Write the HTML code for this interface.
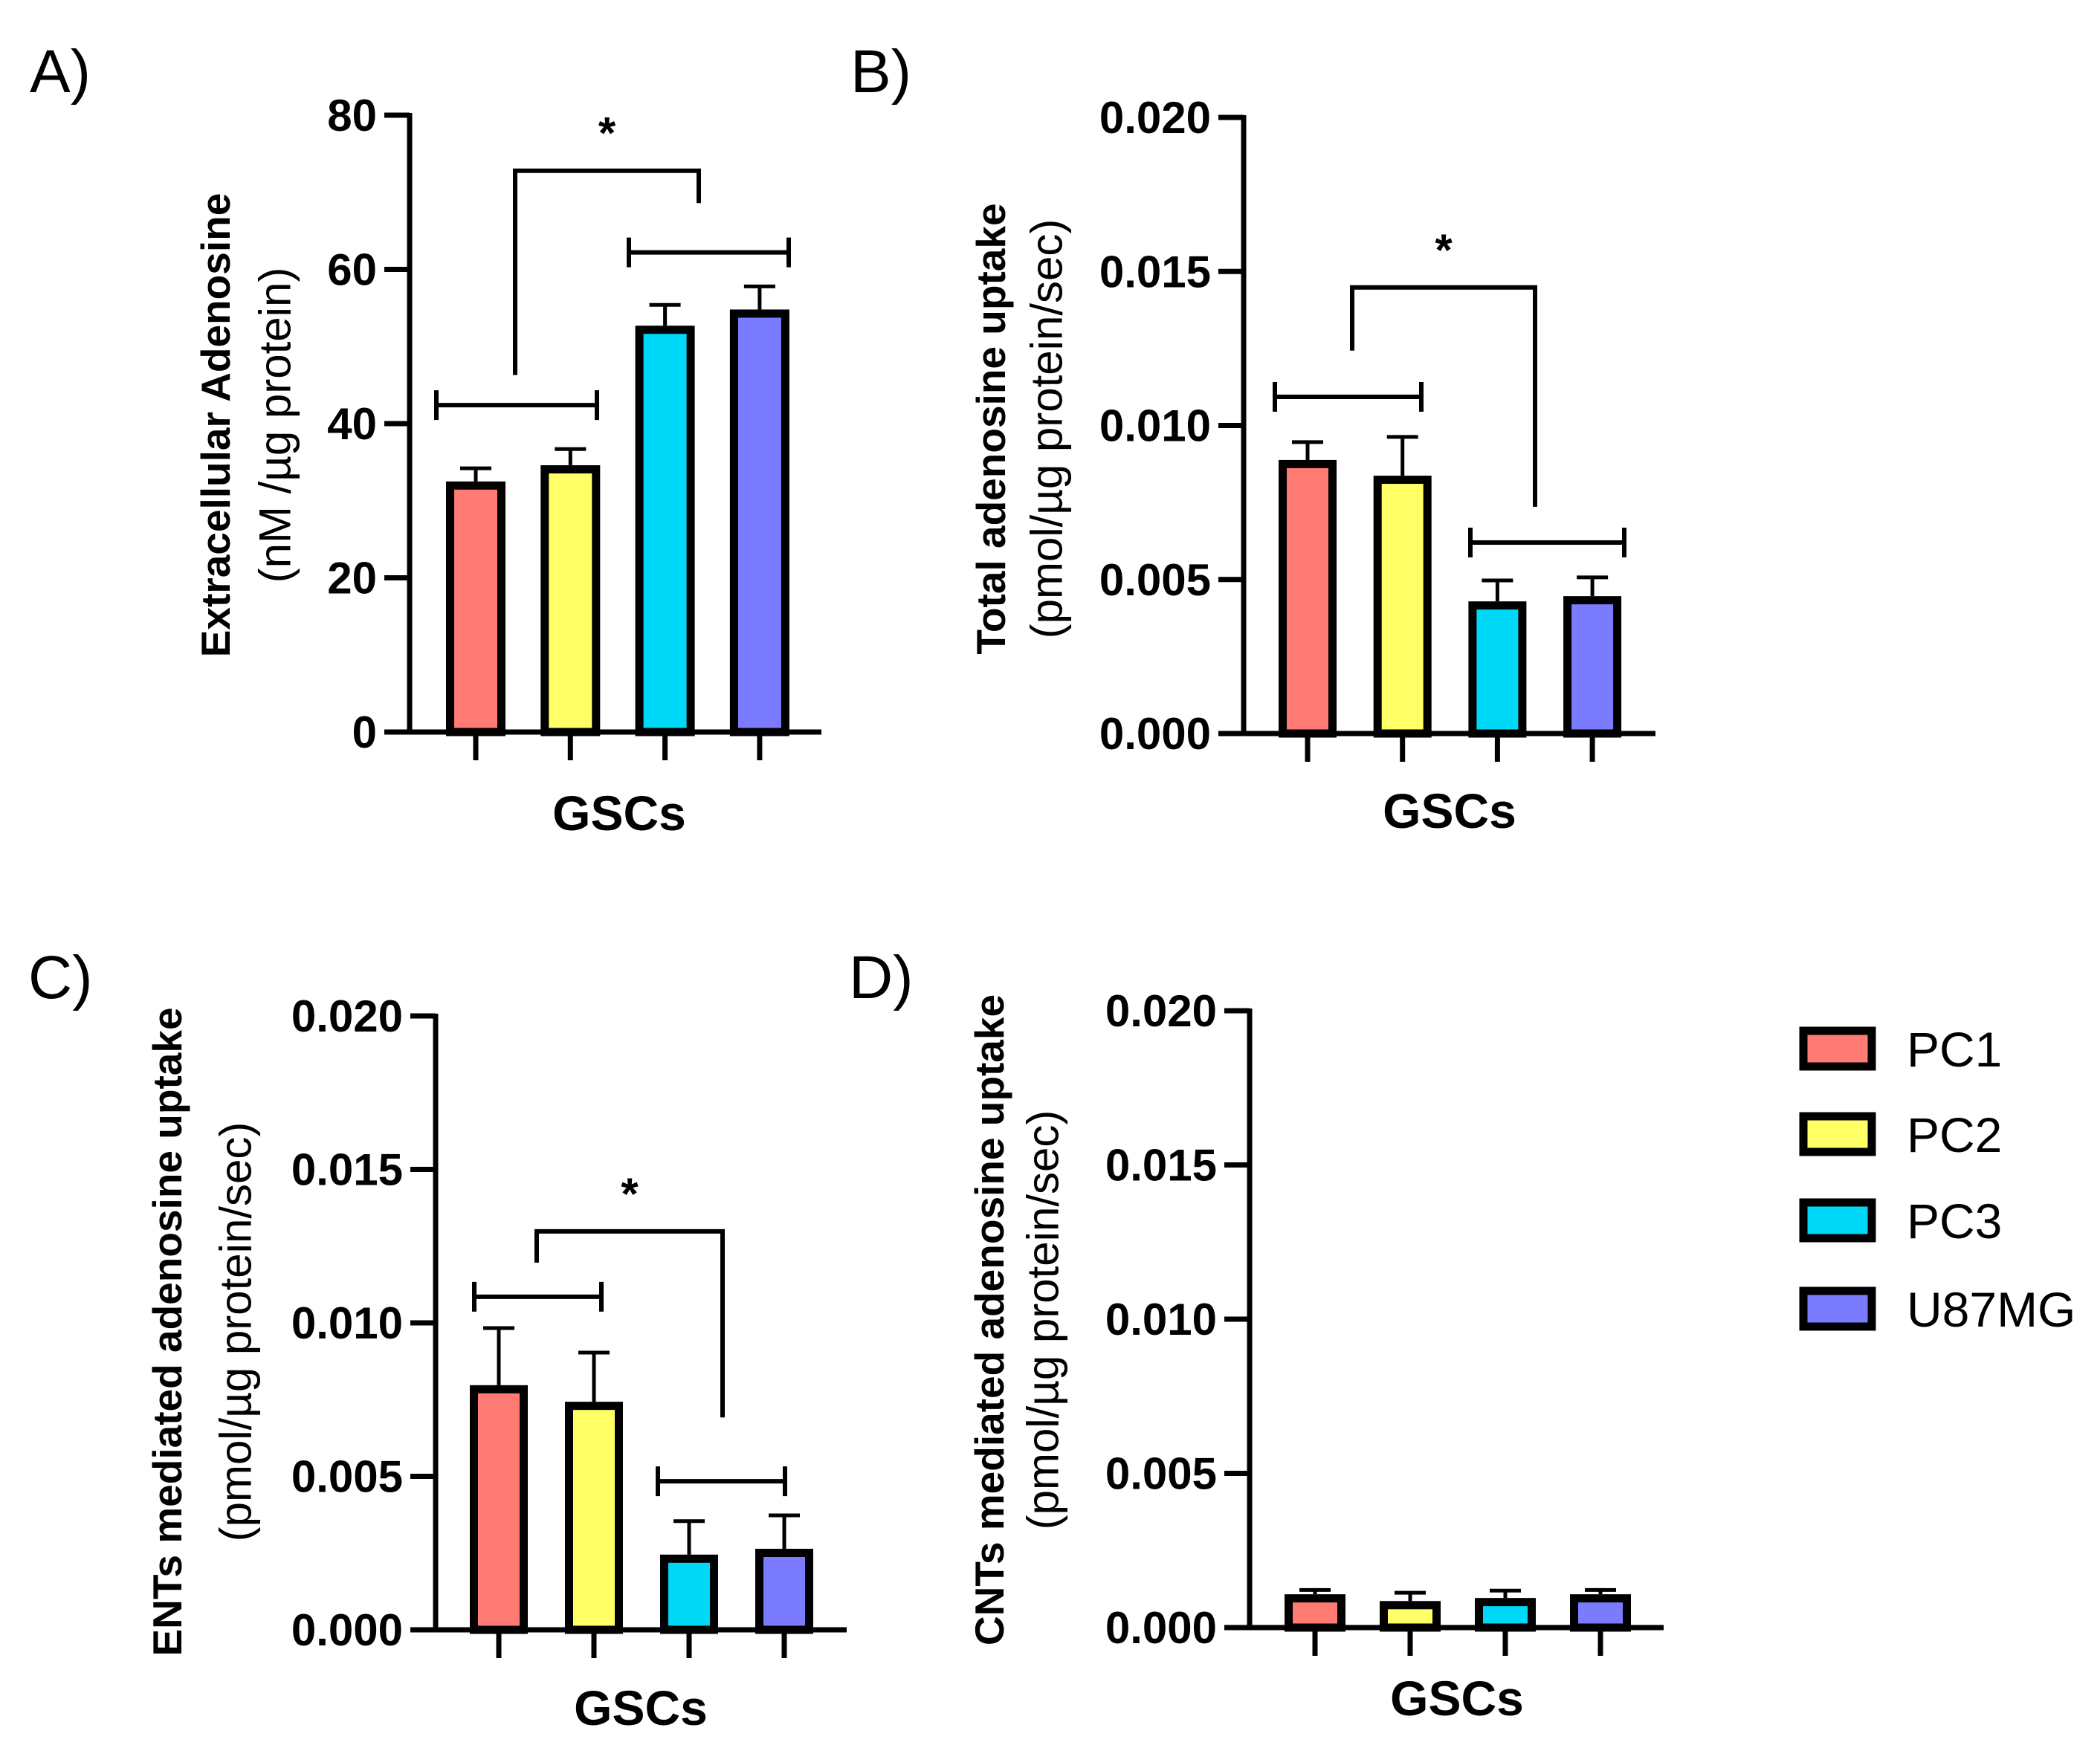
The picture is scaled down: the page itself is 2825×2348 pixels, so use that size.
<!DOCTYPE html>
<html><head><meta charset="utf-8"><style>
html,body{margin:0;padding:0;background:#fff;}
svg{display:block;}
text{font-family:"Liberation Sans",Arial,sans-serif;fill:#000;}
</style></head><body>
<svg id="fig" width="2825" height="2348" viewBox="0 0 2825 2348" xmlns="http://www.w3.org/2000/svg"></svg>
<script>
// ---- data ----
const categories = ["PC1","PC2","PC3","U87MG"];
const colors = ["#ff7b73","#ffff66","#00d8f8","#7b7bff"];
const valuesA = [32.5, 34.6, 52.7, 54.8];
const errorsA = [34.2, 36.7, 55.4, 57.8];
const ticksA = [0,20,40,60,80];
const tickLabelsA = ["0","20","40","60","80"];
const bracketsA = [42.4, 62.2];
const sigA = [72.8, 46.3, 68.6];
const valuesB = [0.00888, 0.00837, 0.00429, 0.00446];
const errorsB = [0.00946, 0.00963, 0.00497, 0.00507];
const ticksB = [0,0.005,0.010,0.015,0.020];
const tickLabelsB = ["0.000","0.005","0.010","0.015","0.020"];
const bracketsB = [0.01093, 0.0062];
const sigB = [0.01448, 0.01243, 0.00736];
const valuesC = [0.00797, 0.00743, 0.00245, 0.00264];
const errorsC = [0.00983, 0.00903, 0.00354, 0.00373];
const bracketsC = [0.01085, 0.00484];
const sigC = [0.01298, 0.01196, 0.00692];
const valuesD = [0.00108, 0.00086, 0.00096, 0.00108];
const errorsD = [0.00122, 0.00113, 0.0012, 0.00122];

const NS="http://www.w3.org/2000/svg";
const svg=document.getElementById('fig');
function mk(tag,attrs,parent){const e=document.createElementNS(NS,tag);for(const k in attrs)e.setAttribute(k,attrs[k]);(parent||svg).appendChild(e);return e;}
function txt(s,attrs,parent){const e=mk('text',attrs,parent);e.textContent=s;return e;}

function panel(cfg){
  const g=mk('g',{});
  
  
  const y=v=>cfg.y0-(v/cfg.max)*(cfg.y0-cfg.yTop);
  const L=txt(cfg.letter,{x:cfg.lx,y:cfg.ly,'font-size':82},g);
  
  
  const t1=txt(cfg.title1,{x:0,y:0,'font-size':55,'font-weight':'bold','text-anchor':'middle',transform:`translate(${cfg.t1x},${cfg.tcy}) rotate(-90)`,'dominant-baseline':'central'},g);
  
  
  const t2=txt(cfg.title2,{x:0,y:0,'font-size':60,'text-anchor':'middle',transform:`translate(${cfg.t2x},${cfg.tcy}) rotate(-90)`,'dominant-baseline':'central'},g);
  
  
  const ya=mk('line',{x1:cfg.ax,y1:y(cfg.max)-3,x2:cfg.ax,y2:cfg.y0,stroke:'#000','stroke-width':7},g);
  
  
  const xa=mk('line',{x1:cfg.ax-34,y1:cfg.y0,x2:cfg.xEnd,y2:cfg.y0,stroke:'#000','stroke-width':7},g);
  
  
  cfg.ticks.forEach((tv,i)=>{
    const yy=y(tv);
    const tl=mk('line',{x1:cfg.ax-34,y1:yy,x2:cfg.ax,y2:yy,stroke:'#000','stroke-width':7},g);
    
    
    const lb=txt(cfg.tickLabels[i],{x:cfg.ax-44,y:yy+21,'font-size':60,'font-weight':'bold','text-anchor':'end'},g);
    
    
  });
  cfg.values.forEach((v,i)=>{
    const cx=cfg.x0+i*cfg.step, w=cfg.bw;
    const eb=mk('line',{x1:cx,y1:y(v),x2:cx,y2:y(cfg.errors[i]),stroke:'#000','stroke-width':5},g);
    
    
    const ec=mk('line',{x1:cx-21,y1:y(cfg.errors[i]),x2:cx+21,y2:y(cfg.errors[i]),stroke:'#000','stroke-width':5},g);
    
    
    const r=mk('rect',{x:cx-w/2+5.5,y:y(v)+5.5,width:w-11,height:Math.max(0,cfg.y0-y(v)-5.5),fill:colors[i],stroke:'#000','stroke-width':11},g);
    
    
    const xt=mk('line',{x1:cx,y1:cfg.y0,x2:cx,y2:cfg.y0+38,stroke:'#000','stroke-width':7},g);
    
    
  });
  const xl=txt('GSCs',{x:cfg.gx,y:cfg.gy,'font-size':66,'font-weight':'bold','text-anchor':'middle'},g);
  
  
  if(cfg.brackets){
    cfg.brX.forEach((bx,i)=>{
      const yy=y(cfg.brackets[i]);
      const p=mk('path',{d:`M${bx[0]},${yy-20}V${yy+20}M${bx[0]},${yy}H${bx[1]}M${bx[1]},${yy-20}V${yy+20}`,stroke:'#000','stroke-width':6,fill:'none'},g);
      
      
    });
    const s=cfg.sig;
    const sp=mk('path',{d:`M${cfg.sigX[0]},${y(s[1])}V${y(s[0])}H${cfg.sigX[1]}V${y(s[2])}`,stroke:'#000','stroke-width':6,fill:'none'},g);
    
    
    const st=txt('*',{x:(cfg.sigX[0]+cfg.sigX[1])/2,y:y(s[0])-30,'font-size':60,'font-weight':'bold','text-anchor':'middle'},g);
    
    
  }
}

panel({id:'a',letter:'A)',lx:40,ly:124,title1:'Extracellular Adenosine',title2:'(nM /µg protein)',t1x:290,t2x:370,tcy:572,
  ax:551,y0:985,yTop:155,max:80,xEnd:1105,ticks:ticksA,tickLabels:tickLabelsA,values:valuesA,errors:errorsA,
  x0:640,step:127.3,bw:80,gx:833,gy:1117,brackets:bracketsA,brX:[[587,803],[846,1061]],sig:sigA,sigX:[693,940]});
panel({id:'b',letter:'B)',lx:1144,ly:124,title1:'Total adenosine uptake',title2:'(pmol/µg protein/sec)',t1x:1333,t2x:1408,tcy:577,
  ax:1673,y0:987,yTop:158,max:0.02,xEnd:2227,ticks:ticksB,tickLabels:tickLabelsB,values:valuesB,errors:errorsB,
  x0:1759,step:127.7,bw:78,gx:1950,gy:1114,brackets:bracketsB,brX:[[1715,1912],[1978,2185]],sig:sigB,sigX:[1819,2065]});
panel({id:'c',letter:'C)',lx:38,ly:1343,title1:'ENTs mediated adenosine uptake',title2:'(pmol/µg protein/sec)',t1x:225,t2x:317,tcy:1792,
  ax:586,y0:2193,yTop:1367,max:0.02,xEnd:1139,ticks:ticksB,tickLabels:tickLabelsB,values:valuesC,errors:errorsC,
  x0:671,step:128,bw:78,gx:862,gy:2321,brackets:bracketsC,brX:[[638,809],[885,1056]],sig:sigC,sigX:[722,972]});
panel({id:'d',letter:'D)',lx:1142,ly:1343,title1:'CNTs mediated adenosine uptake',title2:'(pmol/µg protein/sec)',t1x:1331,t2x:1403,tcy:1776,
  ax:1681,y0:2190,yTop:1360,max:0.02,xEnd:2238,ticks:ticksB,tickLabels:tickLabelsB,values:valuesD,errors:errorsD,
  x0:1769,step:128,bw:82,gx:1960,gy:2308});

const lg=mk('g',{});


const legY=[1411,1526,1642,1761];
categories.forEach((c,i)=>{
  const r=mk('rect',{x:2426,y:legY[i]-24,width:92,height:48,fill:colors[i],stroke:'#000','stroke-width':11},lg);
  
  
  const t=txt(c,{x:2565,y:legY[i]+24,'font-size':66},lg);
  
  
});
</script>
</body></html>
